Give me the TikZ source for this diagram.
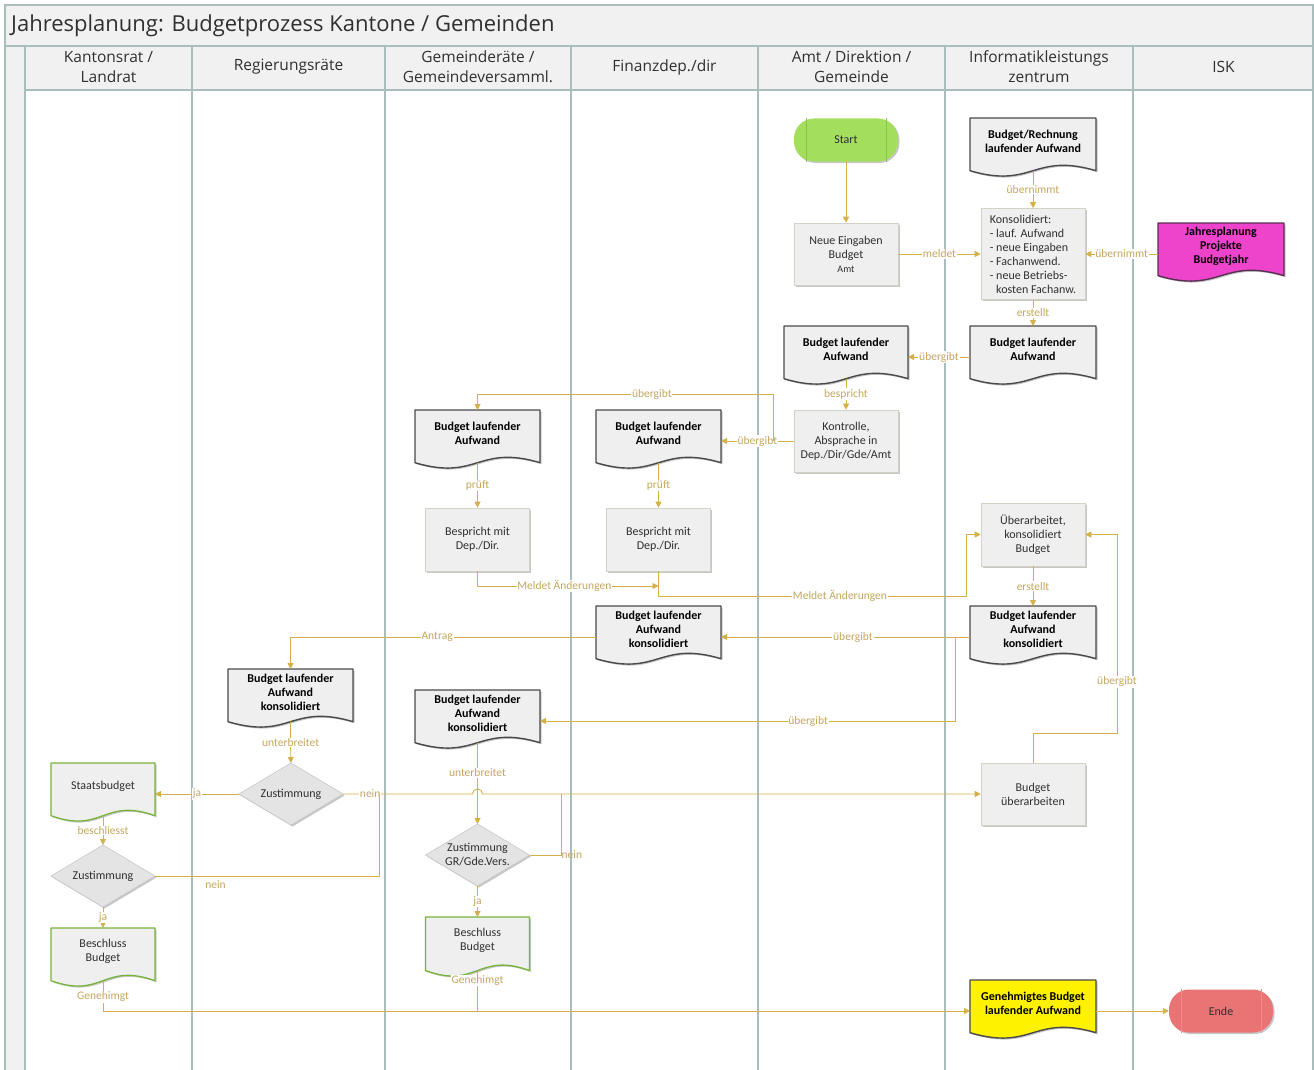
\documentclass[tikz,border=0pt]{standalone}
\usepackage{fontspec}
\setmainfont{Carlito}
\newfontfamily\hdrfont{Open Sans}
\usetikzlibrary{arrows.meta,shadows,calc}
\definecolor{lanec}{HTML}{A9BDBD}
\definecolor{hdrfill}{HTML}{F1F1F1}
\definecolor{boxfill}{HTML}{EFEFEF}
\definecolor{boxdraw}{HTML}{D2D2C8}
\definecolor{gold}{HTML}{D4B048}
\definecolor{goldtxt}{HTML}{C4A65E}
\definecolor{docdraw}{HTML}{4A4A4A}
\definecolor{greendoc}{HTML}{78B43C}
\definecolor{startc}{HTML}{A3DE5C}
\definecolor{startl}{HTML}{8CC44A}
\definecolor{endec}{HTML}{E87474}
\definecolor{endel}{HTML}{C9A090}
\definecolor{magentac}{HTML}{EE44CC}
\definecolor{magdraw}{HTML}{5A3050}
\definecolor{diafill}{HTML}{E4E4E4}
\definecolor{diadraw}{HTML}{C8C8C8}
\definecolor{txtc}{HTML}{303030}

\newcommand\docnode[8]{%
  \path[#6] (#2-#4/2,#3-#5/2) -- (#2+#4/2,#3-#5/2) -- (#2+#4/2,#3+0.35*#5)
     .. controls (#2,#3+0.05*#5) and (#2,#3+0.65*#5) .. (#2-#4/2,#3+0.35*#5) -- cycle;
  \node[docanchor, minimum width=#4pt, minimum height=#5pt] (#1) at (#2,#3) {};
  \coordinate (#1-w) at (#2,#3+0.35*#5);
  \node[#7] at (#2,#3-8) {#8};
}
\newcommand\diam[4]{% name, cx, cy, text
  \path[dia] (#2-52,#3) -- (#2,#3-31) -- (#2+52,#3) -- (#2,#3+31) -- cycle;
  \node[docanchor, minimum width=104pt, minimum height=62pt, font=\fontsize{12}{14}\selectfont, text=txtc, align=center] (#1) at (#2,#3) {#4};
}

\tikzset{
  shadowed/.style={drop shadow={shadow xshift=1.5pt, shadow yshift=-1.5pt, opacity=0.22, fill=black}},
  docanchor/.style={rectangle, inner sep=0pt, outer sep=0pt},
  doc/.style={fill=boxfill, draw=docdraw, line width=1.4pt, line join=round, shadowed},
  gdoc/.style={fill=boxfill, draw=greendoc, line width=1.3pt, line join=round, shadowed},
  ydoc/.style={fill=yellow, draw=docdraw, line width=1.4pt, line join=round, shadowed},
  mdoc/.style={fill=magentac, draw=magdraw, line width=1.4pt, line join=round, shadowed},
  dtxt/.style={font=\fontsize{12}{14}\selectfont, text=txtc, align=center},
  dbold/.style={font=\fontsize{12}{14}\selectfont\bfseries, text=black, align=center},
  box/.style={rectangle, fill=boxfill, draw=boxdraw, line width=0.6pt, minimum width=104pt, minimum height=62pt, inner sep=2pt, align=center, font=\fontsize{12}{14}\selectfont, text=txtc, shadowed},
  dia/.style={fill=diafill, draw=diadraw, line width=0.6pt, shadowed},
  term/.style={rectangle, rounded corners=20pt, minimum width=104pt, minimum height=43pt, font=\fontsize{12}{14}\selectfont, text=txtc, shadowed},
  conn/.style={draw=gold, line width=0.9pt, -{Triangle[length=6pt,width=6pt]}},
  connl/.style={draw=gold, line width=0.9pt},
  lbl/.style={font=\fontsize{11.5}{13}\selectfont, text=goldtxt, fill=white, inner sep=0.8pt},
  lane/.style={draw=lanec, line width=1.2pt},
  hdr/.style={font=\hdrfont\fontsize{15.5}{20}\selectfont, text=txtc, align=center},
}

\begin{document}
\begin{tikzpicture}[x=1pt,y=-1pt]
\useasboundingbox (0,0) rectangle (1314,1070);
\fill[white] (0,0) rectangle (1314,1070);
% frame, title band, header band
\fill[hdrfill] (5,5) rectangle (1313,90);
\fill[hdrfill] (5,46) rectangle (25,1070);
\draw[lane] (5,1070) -- (5,5) -- (1313,5) -- (1313,1070);
\draw[lane] (5,46) -- (1313,46);
\draw[lane] (25,90) -- (1313,90);
\foreach \x in {25,192,385,571,758,945,1133} \draw[lane] (\x,46) -- (\x,1070);
\node[anchor=west, font=\hdrfont\fontsize{22}{25}\selectfont, text=txtc, inner sep=0] (title) at (11,26) {Jahresplanung: Budgetprozess Kantone / Gemeinden};
\node[hdr] (h1) at (108.5,67) {Kantonsrat /\\Landrat};
\node[hdr] (h2) at (288.5,67) {Regierungsräte};
\node[hdr] (h3) at (478,67) {Gemeinderäte /\\Gemeindeversamml.};
\node[hdr] (h4) at (664.5,67) {Finanzdep./dir};
\node[hdr] (h5) at (851.5,67) {Amt / Direktion /\\Gemeinde};
\node[hdr] (h6) at (1039,67) {Informatikleistungs\\zentrum};
\node[hdr] (h7) at (1223.5,67) {ISK};

% terminators
\node[term, fill=startc] (start) at (846,140) {Start};
\draw[startl, line width=0.5pt] ([xshift=12pt]start.north west) -- ([xshift=12pt]start.south west);
\draw[startl, line width=0.5pt] ([xshift=-12pt]start.north east) -- ([xshift=-12pt]start.south east);
\node[term, fill=endec] (ende) at (1221,1011) {Ende};
\draw[endel, line width=0.5pt] ([xshift=12pt]ende.north west) -- ([xshift=12pt]ende.south west);
\draw[endel, line width=0.5pt] ([xshift=-12pt]ende.north east) -- ([xshift=-12pt]ende.south east);

% boxes
\node[box] (neue) at (846,254) {Neue Eingaben\\Budget\\{\fontsize{10}{12}\selectfont Amt}};
\node[box, minimum height=91pt, align=left] (kons) at (1033,254) {Konsolidiert:\\- lauf. Aufwand\\- neue Eingaben\\- Fachanwend.\\- neue Betriebs-\\\hphantom{- }kosten Fachanw.};
\node[box] (kontr) at (846,441) {Kontrolle,\\Absprache in\\Dep./Dir/Gde/Amt};
\node[box, minimum height=63pt] (bsgr) at (477.5,539.5) {Bespricht mit\\Dep./Dir.};
\node[box, minimum height=63pt] (bsfin) at (658.5,539.5) {Bespricht mit\\Dep./Dir.};
\node[box, minimum height=63pt] (ueber) at (1033,534.5) {Überarbeitet,\\konsolidiert\\Budget};
\node[box] (uebarb) at (1033,794) {Budget\\überarbeiten};

% documents
\docnode{brech}{1033}{149}{126}{62}{doc}{dbold}{Budget/Rechnung\\laufender Aufwand}
\docnode{jahr}{1221}{254}{126}{62}{mdoc}{dbold}{Jahresplanung\\Projekte\\Budgetjahr}
\docnode{bamt}{846}{357}{124}{62}{doc}{dbold}{Budget laufender\\Aufwand}
\docnode{biz}{1033}{357}{126}{62}{doc}{dbold}{Budget laufender\\Aufwand}
\docnode{bgr}{477.5}{441}{125}{62}{doc}{dbold}{Budget laufender\\Aufwand}
\docnode{bfin}{658.5}{441}{125}{62}{doc}{dbold}{Budget laufender\\Aufwand}
\docnode{bkiz}{1033}{637}{126}{62}{doc}{dbold}{Budget laufender\\Aufwand\\konsolidiert}
\docnode{bkfin}{658.5}{637}{125}{62}{doc}{dbold}{Budget laufender\\Aufwand\\konsolidiert}
\docnode{bkreg}{290.5}{700}{125}{62}{doc}{dbold}{Budget laufender\\Aufwand\\konsolidiert}
\docnode{bkgr}{477.5}{721}{125}{62}{doc}{dbold}{Budget laufender\\Aufwand\\konsolidiert}
\docnode{staat}{103}{794}{104}{62}{gdoc}{dtxt}{Staatsbudget}
\docnode{beschkan}{103}{959}{104}{62}{gdoc}{dtxt}{Beschluss\\Budget}
\docnode{beschgr}{477.5}{948.5}{104}{63}{gdoc}{dtxt}{Beschluss\\Budget}
\docnode{gen}{1033}{1011}{126}{62}{ydoc}{dbold}{Genehmigtes Budget\\laufender Aufwand}

% diamonds
\diam{zreg}{291}{794}{Zustimmung}
\diam{zkan}{103}{876}{Zustimmung}
\diam{zgr}{477.5}{855}{Zustimmung\\GR/Gde.Vers.}

% connectors
\draw[conn] (start) -- (neue);
\draw[conn] (brech-w) -- node[lbl]{übernimmt} (kons);
\draw[conn] (neue) -- node[lbl]{meldet} (kons);
\draw[conn] (jahr) -- node[lbl]{übernimmt} (kons);
\draw[conn] (kons) -- node[lbl]{erstellt} (biz);
\draw[conn] (biz) -- node[lbl]{übergibt} (bamt);
\draw[conn] (bamt-w) -- node[lbl]{bespricht} (kontr);
\draw[conn] (kontr) -- node[lbl]{übergibt} (bfin);
\coordinate (k1) at (773,441);
\coordinate (k2) at (773,394);
\draw[conn] (k1) -- (k2) -- node[lbl,pos=0.41]{übergibt} (k2 -| bgr) -- (bgr);
\draw[conn] (bgr-w) -- node[lbl]{prüft} (bsgr);
\draw[conn] (bfin-w) -- node[lbl]{prüft} (bsfin);
\coordinate (m1) at (477.5,586);
\coordinate (m2) at (658.5,586);
\draw[conn] (bsgr) -- (m1) -- node[lbl,pos=0.48]{Meldet Änderungen} (m2);
\coordinate (m3) at (658.5,596);
\coordinate (m4) at (966,596);
\draw[conn] (bsfin) -- (m3) -- node[lbl,pos=0.59]{Meldet Änderungen} (m4) |- (ueber);
\draw[conn] (ueber) -- node[lbl]{erstellt} (bkiz);
\draw[conn] (bkiz) -- node[lbl,pos=0.47]{übergibt} (bkfin);
\draw[conn] (bkfin) -- node[lbl,pos=0.52]{Antrag} (bkfin -| bkreg) -- (bkreg);
\coordinate (u1) at (955,637);
\coordinate (u2) at (955,721);
\draw[conn] (u1) -- (u2) -- node[lbl,pos=0.354]{übergibt} (bkgr);
\draw[conn] (bkreg-w) -- node[lbl]{unterbreitet} (zreg);
\draw[conn] (zreg) -- node[lbl]{ja} (staat);
\coordinate (hp) at (472.5,794);
\draw[conn] (zreg) -- node[lbl,pos=0.21]{nein} (hp) arc[start angle=180,end angle=0,radius=5pt] -- (uebarb);
\coordinate (n1) at (379,876);
\coordinate (n2) at (379,794);
\draw[connl] (zkan) -- node[lbl,pos=0.27,anchor=north,yshift=-3pt,fill=none]{nein} (n1) -- (n2);
\coordinate (g1) at (561,855);
\coordinate (g2) at (561,794);
\draw[connl] (zgr) -- (g1) -- (g2);
\node[lbl, anchor=west, fill=none, inner sep=0.5pt] (gnein) at (g1) {nein};
\draw[conn] (bkgr-w) -- node[lbl,pos=0.37]{unterbreitet} (zgr);
\draw[conn] (zgr) -- node[lbl]{ja} (beschgr);
\draw[conn] (staat-w) -- node[lbl]{beschliesst} (zkan);
\draw[conn] (zkan) -- node[lbl]{ja} (beschkan);
\coordinate (e1) at (103,1011);
\draw[conn] (beschkan-w) -- node[lbl,pos=0.53]{Genehimgt} (e1) -- (gen);
\coordinate (e2) at (477.5,1011);
\draw[connl] (beschgr-w) -- node[lbl,pos=0.25]{Genehimgt} (e2);
\draw[conn] (gen) -- (ende);
\coordinate (b1) at (1033,733);
\coordinate (b2) at (1117,733);
\draw[conn] (uebarb) -- (b1) -- (b2) -- node[lbl,pos=0.257]{übergibt} (b2 |- ueber) -- (ueber);
\end{tikzpicture}
\end{document}
